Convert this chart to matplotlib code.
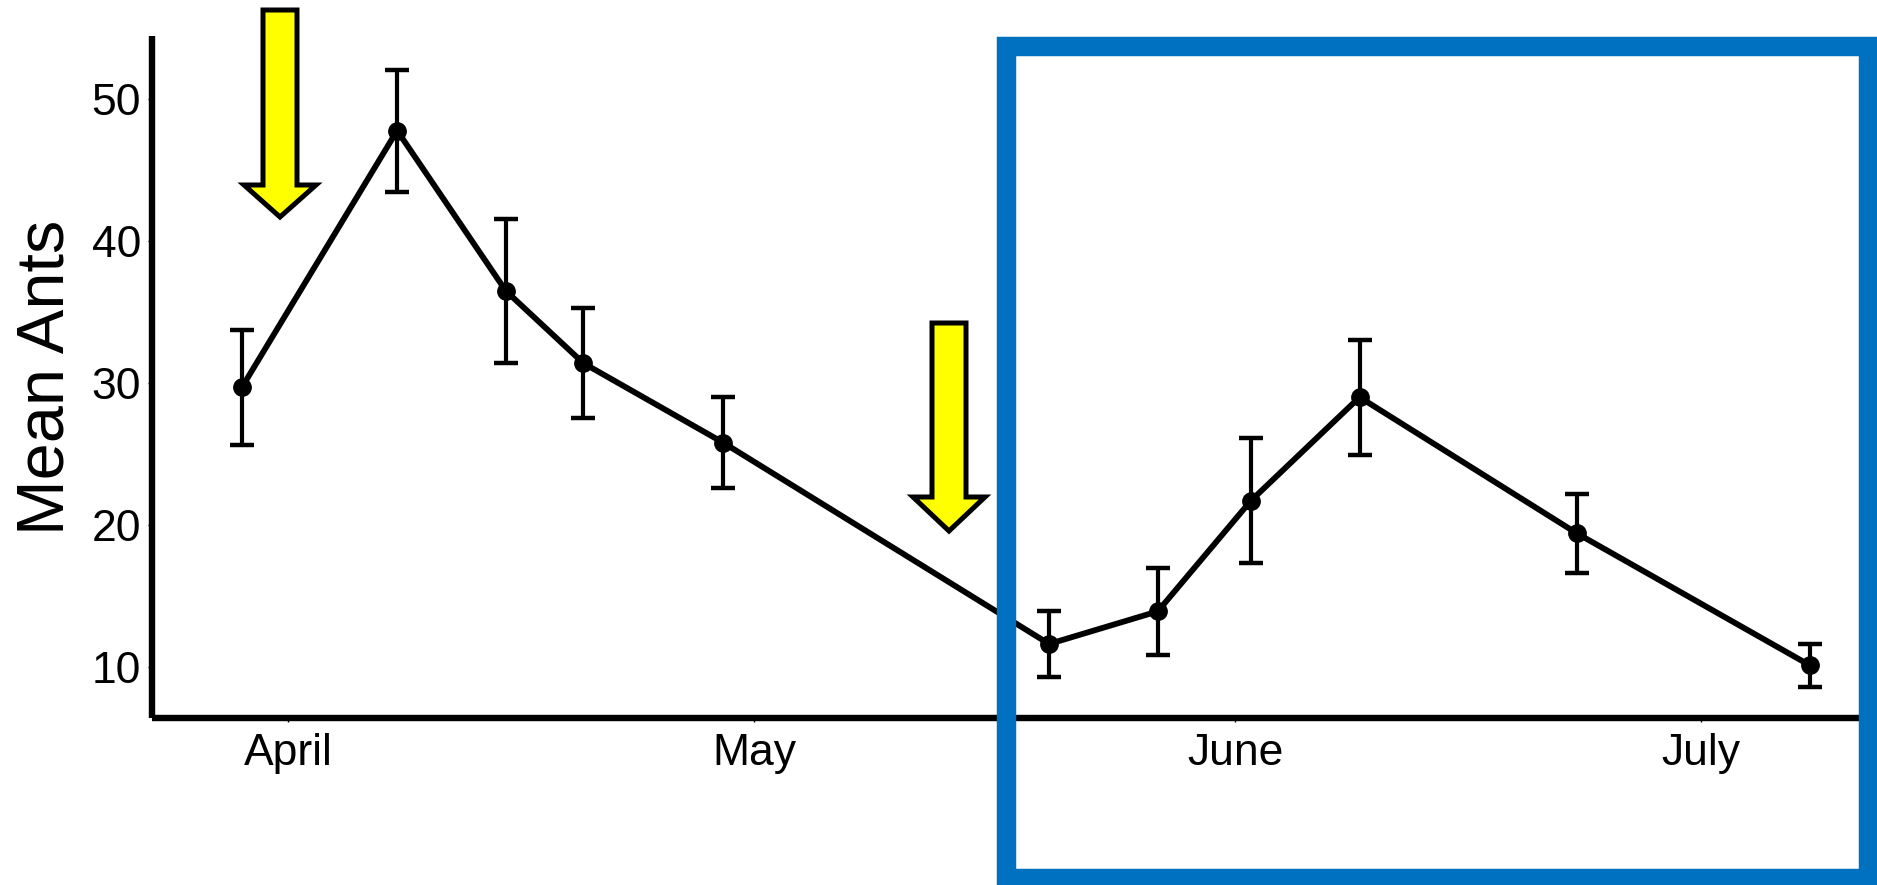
import matplotlib
matplotlib.use("Agg")
import matplotlib.pyplot as plt
import matplotlib.dates as mdates
from matplotlib.patches import Polygon, Rectangle
import numpy as np

plt.rcParams['font.family'] = ['Liberation Sans', 'DejaVu Sans']

# sampling dates and mean ant counts
dates = ["2014-03-29", "2014-04-08", "2014-04-15", "2014-04-20", "2014-04-29",
         "2014-05-20", "2014-05-27", "2014-06-02", "2014-06-09", "2014-06-23",
         "2014-07-08"]
mean_ants = [29.7, 47.8, 36.5, 31.4, 25.8, 11.6, 13.9, 21.7, 29.0, 19.4, 10.1]
err = [4.05, 4.3, 5.1, 3.9, 3.2, 2.3, 3.05, 4.4, 4.05, 2.8, 1.5]
month_ticks = ["2014-04-01", "2014-05-01", "2014-06-01", "2014-07-01"]
month_labels = ["April", "May", "June", "July"]

x = mdates.datestr2num(dates)
W, H = 1877, 885

fig = plt.figure(figsize=(W / 100, H / 100), dpi=100)
ax = fig.add_axes([152 / W, 1 - 718 / H, (1877 - 152) / W, (718 - 36) / H])

ax.errorbar(x, mean_ants, yerr=err, color="black", lw=4.2, marker="o", ms=12.5,
            elinewidth=3.0, capsize=8.3, capthick=3.2, zorder=3)

ax.set_xlim(mdates.datestr2num("2014-03-23 05:00"), mdates.datestr2num("2014-07-12 08:00"))
ax.set_ylim(6.38, 54.47)
ax.set_xticks(mdates.datestr2num(month_ticks))
ax.set_xticklabels(month_labels)
ax.set_yticks([10, 20, 30, 40, 50])
ax.tick_params(axis="both", labelsize=32, length=3, width=1, direction="out")
ax.tick_params(axis="x", pad=8)
ax.tick_params(axis="y", pad=5)
ax.set_ylabel("Mean Ants", fontsize=48, labelpad=10)

for s in ["top", "right"]:
    ax.spines[s].set_visible(False)
for s in ["left", "bottom"]:
    ax.spines[s].set_linewidth(4.6)
    ax.spines[s].set_capstyle("butt")


def down_arrow(cx, top, base, tip, shaft_hw=17, head_hw=36):
    pts = [(cx - shaft_hw, top), (cx + shaft_hw, top), (cx + shaft_hw, base),
           (cx + head_hw, base), (cx, tip), (cx - head_hw, base),
           (cx - shaft_hw, base)]
    pts = [(px / W, 1 - py / H) for px, py in pts]
    fig.add_artist(Polygon(pts, closed=True, facecolor="#FFFF00",
                           edgecolor="black", lw=3.6, joinstyle="miter",
                           transform=fig.transFigure))


down_arrow(280, 10, 185, 217)
down_arrow(949, 323, 497, 531)

# highlight box around the June-July period
bx0, by0, bx1, by1 = 1006, 46, 1868, 878
fig.add_artist(Rectangle((bx0 / W, 1 - by1 / H), (bx1 - bx0) / W, (by1 - by0) / H,
                         fill=False, edgecolor="#0070C0", lw=14,
                         transform=fig.transFigure))

fig.savefig("out.png", dpi=100)
